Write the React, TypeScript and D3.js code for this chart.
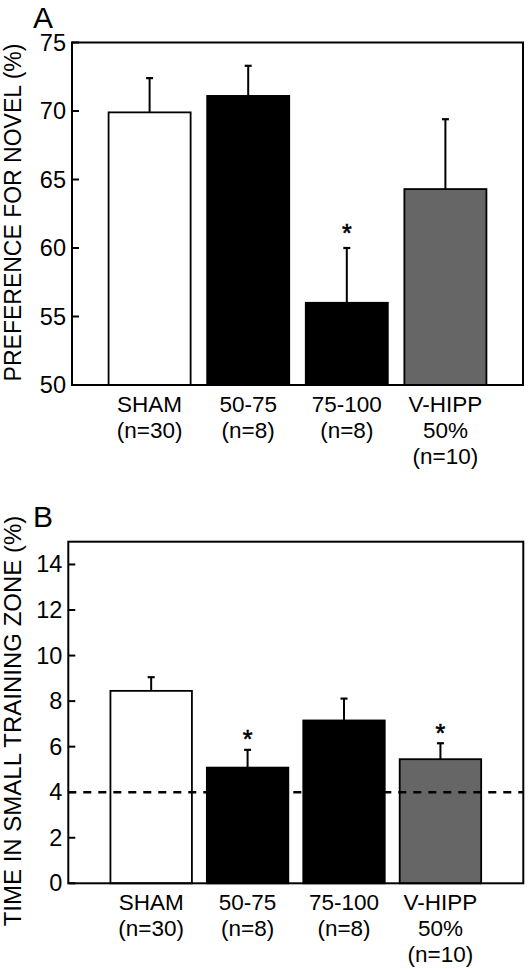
import React from "react";
import * as d3 from "d3";

const groups = ["SHAM", "50-75", "75-100", "V-HIPP"];
const groupLabels = [["SHAM", "(n=30)"], ["50-75", "(n=8)"], ["75-100", "(n=8)"], ["V-HIPP", "50%", "(n=10)"]];
const barFills = ["#ffffff", "#000000", "#000000", "#666666"];

const novelMeans = [69.9, 71.1, 56.0, 64.3];
const novelErrors = [2.5, 2.2, 4.0, 5.1];
const novelSig = [false, false, true, false];
const novelTicks = [50, 55, 60, 65, 70, 75];
const novelDomain = [50, 75];

const zoneMeans = [8.45, 5.08, 7.15, 5.45];
const zoneErrors = [0.6, 0.78, 0.96, 0.7];
const zoneSig = [false, true, false, true];
const zoneTicks = [0, 2, 4, 6, 8, 10, 12, 14];
const zoneDomain = [0, 15];
const chanceLevel = 4;

const FONT = "'Liberation Sans', Arial, Helvetica, sans-serif";

type PanelProps = {
  letter: string;
  yLabel: string;
  yLabelSize: number;
  means: number[];
  errors: number[];
  sig: boolean[];
  ticks: number[];
  domain: number[];
  left: number;
  right: number;
  top: number;
  bottom: number;
  padInner: number;
  padOuter: number;
  starGap: number;
  refLine?: number;
  letterY: number;
  yLabelCenter: number;
};

function Panel(p: PanelProps) {
  const x = d3.scaleBand<string>().domain(groups).range([p.left, p.right]).paddingInner(p.padInner).paddingOuter(p.padOuter);
  const y = d3.scaleLinear().domain(p.domain).range([p.bottom, p.top]);
  const bw = x.bandwidth();
  return (
    <g fontFamily={FONT}>
      <text x={33} y={p.letterY} fontSize={30}>{p.letter}</text>
      <text transform={`translate(21,${p.yLabelCenter}) rotate(-90)`} textAnchor="middle" fontSize={p.yLabelSize}>{p.yLabel}</text>
      {groups.map((g, i) => {
        const cx = (x(g) as number) + bw / 2;
        const top = y(p.means[i]);
        const et = y(p.means[i] + p.errors[i]);
        return (
          <g key={g}>
            <line x1={cx} x2={cx} y1={top} y2={et} stroke="#000" strokeWidth={2} />
            <line x1={cx - 3.5} x2={cx + 3.5} y1={et} y2={et} stroke="#000" strokeWidth={2.2} />
            <rect x={x(g)} y={top} width={bw} height={p.bottom - top} fill={barFills[i]} stroke="#000" strokeWidth={1.8} />
            {p.sig[i] && (
              <text x={cx} y={et - p.starGap} textAnchor="middle" fontSize={25} stroke="#000" strokeWidth={0.6} dominantBaseline="central">*</text>
            )}
            {groupLabels[i].map((s, k) => (
              <text key={k} x={cx} y={p.bottom + 27 + k * 26} textAnchor="middle" fontSize={22.5}>{s}</text>
            ))}
          </g>
        );
      })}
      {p.refLine !== undefined && (
        <line x1={p.left} x2={p.right} y1={y(p.refLine)} y2={y(p.refLine)} stroke="#000" strokeWidth={2.6} strokeDasharray="8,7" />
      )}
      <rect x={p.left} y={p.top} width={p.right - p.left} height={p.bottom - p.top} fill="none" stroke="#000" strokeWidth={2} />
      {p.ticks.map((t) => (
        <g key={t}>
          <line x1={p.left} x2={p.left + 7} y1={y(t)} y2={y(t)} stroke="#000" strokeWidth={2} />
          <text x={p.left - 6} y={y(t)} textAnchor="end" dominantBaseline="central" fontSize={23.5}>{t}</text>
        </g>
      ))}
    </g>
  );
}

export default function App() {
  return (
    <svg width={529} height={969} style={{ position: "absolute", left: 0, top: 0, background: "#fff" }}>
      <rect width={529} height={969} fill="#fff" />
      <Panel
        letter="A"
        yLabel="PREFERENCE FOR NOVEL (%)"
        yLabelSize={23}
        means={novelMeans}
        errors={novelErrors}
        sig={novelSig}
        ticks={novelTicks}
        domain={novelDomain}
        left={72}
        right={523}
        top={42.5}
        bottom={385}
        padInner={0.168}
        padOuter={0.371}
        starGap={15}
        letterY={28}
        yLabelCenter={212.5}
      />
      <Panel
        letter="B"
        yLabel="TIME IN SMALL TRAINING ZONE (%)"
        yLabelSize={24}
        means={zoneMeans}
        errors={zoneErrors}
        sig={zoneSig}
        ticks={zoneTicks}
        domain={zoneDomain}
        left={68.3}
        right={523.3}
        top={541.7}
        bottom={883.3}
        padInner={0.155}
        padOuter={0.437}
        starGap={10.5}
        refLine={chanceLevel}
        letterY={527}
        yLabelCenter={721}
      />
    </svg>
  );
}
